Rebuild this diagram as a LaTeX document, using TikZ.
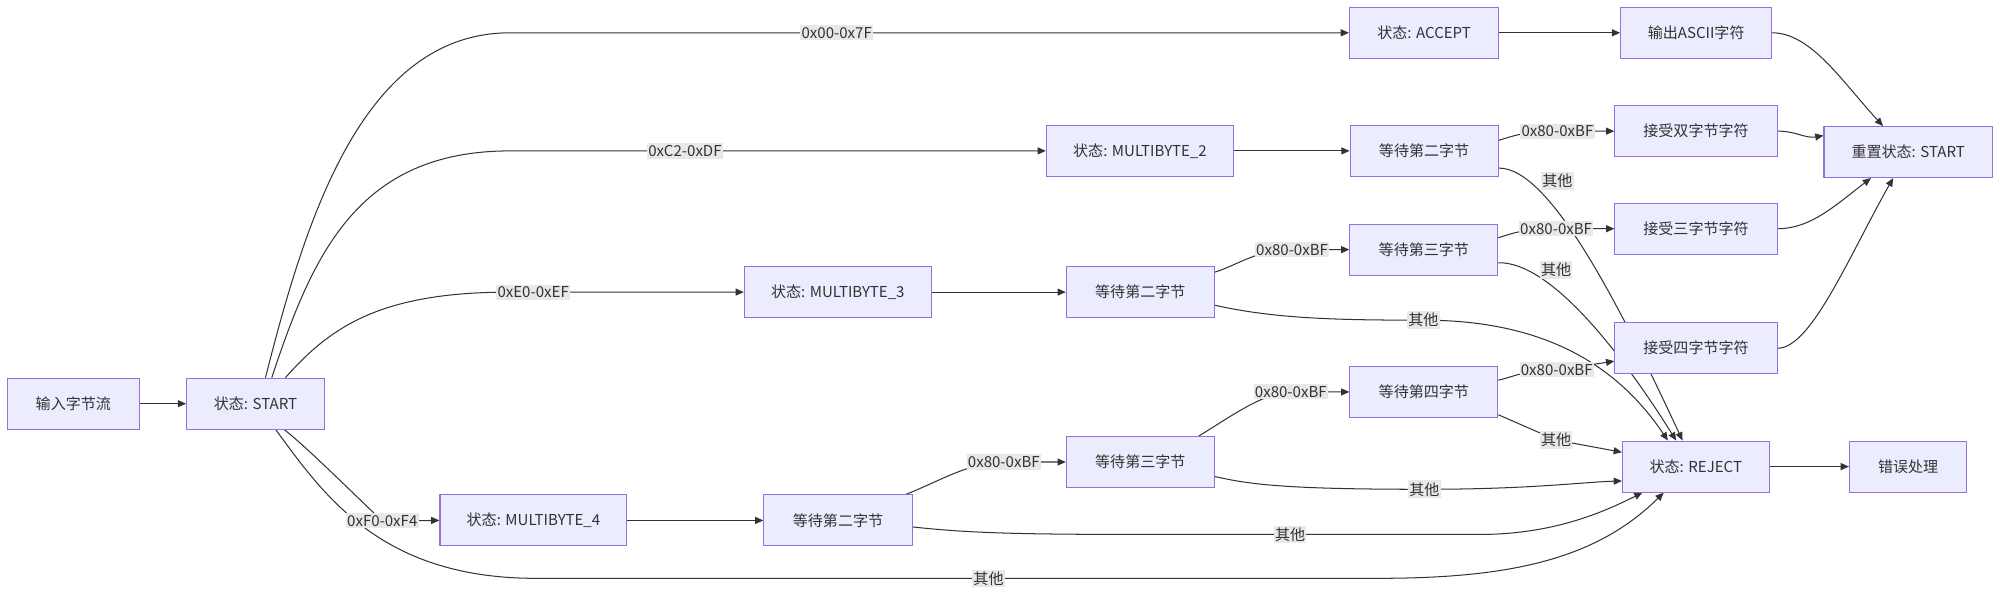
\documentclass[tikz,border=0pt]{standalone}
\usepackage{fontspec}
\newfontfamily\cjk{Noto Sans CJK SC}
\usetikzlibrary{arrows.meta}
\definecolor{boxfill}{HTML}{ECECFF}
\definecolor{boxline}{HTML}{9370DB}
\definecolor{ink}{HTML}{333333}
\definecolor{lblfill}{HTML}{E8E8E8}
\pgfdeclarelayer{back}
\pgfdeclarelayer{edges}
\pgfsetlayers{back,edges,main}

\begin{document}
\begin{tikzpicture}[x=1pt,y=-1pt,
	state/.style={draw=boxline,fill=boxfill,line width=0.8pt,minimum height=40pt,inner sep=0pt,text=ink,font=\cjk\fontsize{11.8}{14}\selectfont},
	cond/.style={fill=lblfill,inner xsep=1pt,inner ysep=1.5pt,text=ink,font=\cjk\fontsize{11.8}{14}\selectfont},
	flow/.style={draw=ink,line width=0.8pt,-{Triangle[length=6.5pt,width=5.5pt]}}]

\begin{pgfonlayer}{back}
\path[use as bounding box,fill=white] (0,0) rectangle (1568,469);
\end{pgfonlayer}

% states
\node[state,minimum width=103.5pt] (in) at (57.5,316.5) {输入字节流};
\node[state,minimum width=108pt] (st) at (200.3,316.5) {状态: START};
\node[state,minimum width=117pt] (acc) at (1116.5,25.7) {状态: ACCEPT};
\node[state,minimum width=118.4pt] (ascii) at (1329.8,25.7) {输出ASCII字符};
\node[state,minimum width=132pt] (rst) at (1496,119.2) {重置状态: START};

% 2 bytes
\node[state,minimum width=146.7pt] (mb2) at (893.7,118.3) {状态: MULTIBYTE\_2};
\node[state,minimum width=116pt] (w2a) at (1116.5,118.3) {等待第二字节};
\node[state,minimum width=127.3pt] (ok2) at (1329.7,102.8) {接受双字节字符};

% 3 bytes
\node[state,minimum width=146.4pt] (mb3) at (656.8,229) {状态: MULTIBYTE\_3};
\node[state,minimum width=116pt] (w2b) at (894,229) {等待第二字节};
\node[state,minimum width=116pt] (w3b) at (1116.3,195.7) {等待第三字节};
\node[state,minimum width=127.3pt] (ok3) at (1329.7,179.3) {接受三字节字符};

% 4 bytes
\node[state,minimum width=146.5pt] (mb4) at (418.2,408) {状态: MULTIBYTE\_4};
\node[state,minimum width=116.3pt] (w2c) at (657,408) {等待第二字节};
\node[state,minimum width=116pt] (w3c) at (894,362.2) {等待第三字节};
\node[state,minimum width=116pt] (w4c) at (1116.3,307.3) {等待第四字节};
\node[state,minimum width=127.3pt] (ok4) at (1329.7,273) {接受四字节字符};

% reject
\node[state,minimum width=115pt] (rej) at (1329.5,365.8) {状态: REJECT};
\node[state,minimum width=92pt] (err) at (1496,365.8) {错误处理};

% edge labels
\node[cond] (c00) at (656,25.7) {0x00-0x7F};
\node[cond] (cC2) at (537,118.3) {0xC2-0xDF};
\node[cond] (cE0) at (418,229) {0xE0-0xEF};
\node[cond] (cF0) at (299.7,408.4) {0xF0-0xF4};
\node[cond] (x1) at (775,453.4) {其他};
\node[cond] (b2a) at (1221,102.8) {0x80-0xBF};
\node[cond] (x2a) at (1221,142) {其他};
\node[cond] (b2b) at (1013,195.7) {0x80-0xBF};
\node[cond] (x2b) at (1116,251) {其他};
\node[cond] (b3b) at (1220,179.3) {0x80-0xBF};
\node[cond] (x3b) at (1220,211.7) {其他};
\node[cond] (b2c) at (787,362.2) {0x80-0xBF};
\node[cond] (x2c) at (1011.4,419) {其他};
\node[cond] (b3c) at (1012,307.3) {0x80-0xBF};
\node[cond] (x3c) at (1116.7,383.6) {其他};
\node[cond] (b4c) at (1220.5,290) {0x80-0xBF};
\node[cond] (x4c) at (1220,345) {其他};

\begin{pgfonlayer}{edges}
\foreach \a/\b in {in/st,acc/ascii,mb2/w2a,mb3/w2b,mb4/w2c,rej/err}{
	\draw[flow] (\a) -- (\b);
}

% out of START
\draw[flow] (st.69) .. controls (240,170) and (285,25.7) .. (400,25.7) -- (acc.west);
\draw[flow] (st.58) .. controls (245,200) and (280,118.3) .. (400,118.3) -- (mb2.west);
\draw[flow] (st.41) .. controls (260,255) and (300,229) .. (400,229) -- (mb3.west);
\draw[flow] (st.-42) .. controls (240,350) and (280,390) .. (cF0.center) -- (mb4.west);
\draw[flow] (st.-52) .. controls (255,390) and (300,453.4) .. (420,453.4) -- (1080,453.4) .. controls (1180,453.4) and (1250,440) .. (rej.219);

% 2 bytes
\draw[flow] (w2a.8) .. controls (1185,107) and (1195,102.8) .. (b2a.center) -- (ok2.west);
\draw[flow] (w2a.-13) .. controls (1215,131) and (1270,240) .. (rej.117);
\draw[flow] (ok2.east) to[out=0,in=190] (rst.169);
\draw[flow] (ascii.east) .. controls (1420,25.7) and (1445,65) .. (rst.134);

% 3 bytes
\draw[flow] (w2b.15) .. controls (970,208) and (985,195.7) .. (b2b.center) -- (w3b.west);
\draw[flow] (w2b.-10) .. controls (1000,250) and (1050,251) .. (x2b.center) .. controls (1205,251) and (1265,282) .. (rej.137);
\draw[flow] (w3b.9) .. controls (1185,183) and (1195,179.3) .. (b3b.center) -- (ok3.west);
\draw[flow] (w3b.-10) .. controls (1215,205) and (1270,275) .. (rej.127);
\draw[flow] (ok3.east) .. controls (1420,179.3) and (1440,160) .. (rst.215);

% 4 bytes
\draw[flow] (w2c.21) .. controls (735,378) and (760,362.2) .. (b2c.center) -- (w3c.west);
\draw[flow] (w2c.-5) .. controls (760,418) and (800,419) .. (900,419) -- (1160,419) .. controls (1220,419) and (1260,400) .. (rej.206);
\draw[flow] (w3c.24) .. controls (960,330) and (990,307.3) .. (b3c.center) -- (w4c.west);
\draw[flow] (w3c.-11) .. controls (980,380) and (1010,383.6) .. (x3c.center) .. controls (1200,383.6) and (1240,378) .. (rej.191);
\draw[flow] (w4c.9) .. controls (1185,296) and (1195,290) .. (b4c.center) -- (ok4.189);
\draw[flow] (w4c.-17) -- (x4c.center) -- (rej.169);
\draw[flow] (ok4.east) .. controls (1420,273) and (1450,200) .. (rst.240);
\end{pgfonlayer}

\end{tikzpicture}
\end{document}
